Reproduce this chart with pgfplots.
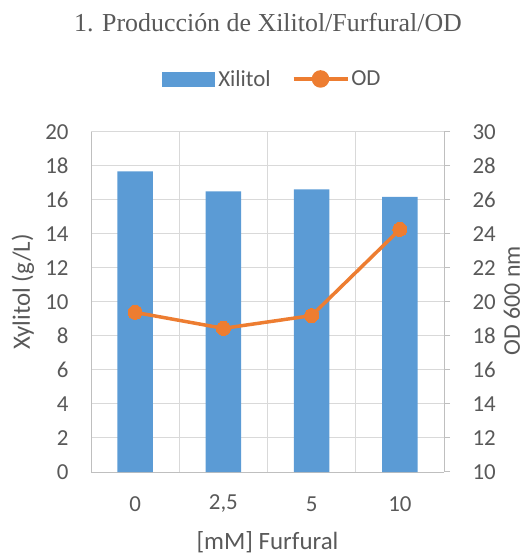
\documentclass[border=0pt]{standalone}
\usepackage{pgfplots}
\pgfplotsset{compat=1.18}
\usepackage{fontspec}
\setmainfont{Carlito}
\newfontfamily\titlefont{Liberation Serif}
\definecolor{barblue}{HTML}{5B9BD5}
\definecolor{odorange}{HTML}{ED7D31}
\definecolor{txtgray}{HTML}{595959}
\definecolor{gridgray}{HTML}{D9D9D9}
\definecolor{axisgray}{HTML}{BFBFBF}

\pgfplotstableread{
x  xyl
0  17.69
1  16.51
2  16.63
3  16.18
}\xyltable
\pgfplotstableread{
x  od
0  19.39
1  18.45
2  19.20
3  24.27
}\odtable

\begin{document}
\begin{tikzpicture}
\path[use as bounding box] (0,0) rectangle (527bp,554bp);

\node[font=\titlefont\fontsize{26}{30}\selectfont, text=txtgray, anchor=base]
  at (268bp,522bp) {1. Producción de Xilitol/Furfural/OD};

% Xylitol bars, left axis
\begin{axis}[
  at={(91bp,82bp)}, anchor=south west,
  scale only axis, width=353bp, height=340bp,
  xmin=-0.5, xmax=3.5, ymin=0, ymax=20,
  ytick={0,2,...,20},
  xtick={0,1,2,3}, xticklabels={0,{2,5},5,10},
  minor xtick={-0.5,0.5,1.5,2.5,3.5},
  xminorgrids, ymajorgrids,
  minor grid style={gridgray, line width=1bp},
  major grid style={gridgray, line width=1bp},
  axis line style={axisgray, line width=1bp},
  axis x line*=bottom, axis y line*=left,
  major tick length=0pt, minor tick length=0pt,
  /pgf/number format/assume math mode=true,
  tick label style={font=\fontsize{23}{26}\selectfont, text=txtgray},
  y tick label style={anchor=east, xshift=-19bp},
  x tick label style={anchor=center, yshift=-32bp},
  xlabel={[mM] Furfural},
  every axis x label/.style={at={(axis description cs:0.5,0)}, anchor=center, yshift=-70bp,
    inner sep=0pt, font=\fontsize{25}{28}\selectfont, text=txtgray},
  clip=false,
]
\addplot[ybar, bar width=0.4, fill=barblue, draw=none] table[x=x, y=xyl] {\xyltable};
\end{axis}

% OD line, right axis
\begin{axis}[
  at={(91bp,82bp)}, anchor=south west,
  scale only axis, width=353bp, height=340bp,
  xmin=-0.5, xmax=3.5, ymin=10, ymax=30,
  ytick={10,12,...,30},
  axis x line=none, axis y line*=right,
  axis line style={axisgray, line width=1bp},
  y tick style={axisgray, line width=1bp},
  major tick length=6bp, tick align=outside,
  /pgf/number format/assume math mode=true,
  tick label style={font=\fontsize{23}{26}\selectfont, text=txtgray},
  y tick label style={anchor=west, xshift=19bp},
  clip=false,
  legend style={at={(rel axis cs:0.512,1.156)}, anchor=center, draw=none, fill=none,
    font=\fontsize{23}{26}\selectfont, text=txtgray,
    nodes={inner xsep=1bp},
    /tikz/every even column/.append style={column sep=20bp}},
  legend columns=2,
]
\addlegendimage{legend image code/.code={\fill[barblue] (0bp,-7bp) rectangle (52bp,7bp); \path (55bp,0bp);}}
\addlegendentry{Xilitol}
\addplot[odorange, line width=3.5bp, mark=*, mark size=7bp,
  mark options={fill=odorange, draw=odorange, line width=0bp},
  legend image code/.code={\draw[odorange, line width=3.5bp] (0bp,0bp) -- (54bp,0bp);
    \fill[odorange] (27bp,0bp) circle (7bp); \path (55bp,0bp);}]
  table[x=x, y=od] {\odtable};
\addlegendentry{OD}
\end{axis}

% vertical axis titles
\node[rotate=90, anchor=center, inner sep=0pt, font=\fontsize{25}{28}\selectfont, text=txtgray]
  at (23bp,262bp) {Xylitol (g/L)};
\node[rotate=90, anchor=center, inner sep=0pt, font=\fontsize{24}{28}\selectfont, text=txtgray]
  at (512bp,253bp) {OD 600 nm};
\end{tikzpicture}
\end{document}
